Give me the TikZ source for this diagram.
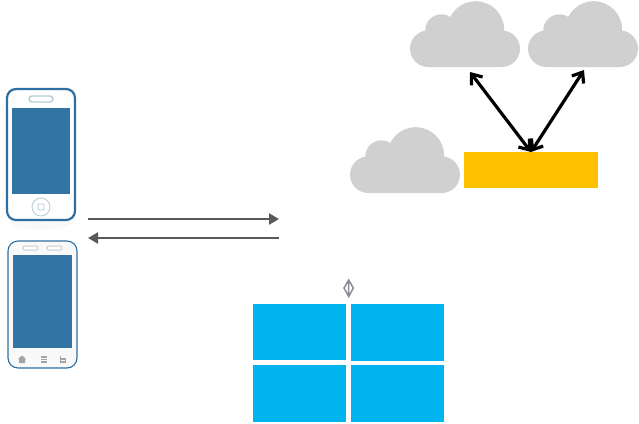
\documentclass[tikz,border=0pt]{standalone}
\usetikzlibrary{arrows.meta}
\definecolor{phoneblue}{HTML}{2E6FA3}
\definecolor{screenblue}{HTML}{3274A3}
\definecolor{cloudgray}{HTML}{D0D0D0}
\definecolor{linkgray}{HTML}{595959}
\definecolor{gateyellow}{HTML}{FFC000}
\definecolor{panecyan}{HTML}{00B4F0}
\definecolor{trimgray}{HTML}{B4CDD2}
\definecolor{icongray}{HTML}{8C8C96}
\tikzset{
    box/.style={inner sep=0pt,outer sep=0pt,anchor=north west,fill=#1},
    cloud/.pic={
        \fill[cloudgray] (18.3,-18.3) circle (18.3) (91.7,-18.3) circle (18.3)
            (31.3,-36.7) circle (16) (65.7,-37.3) circle (28.5)
            (18.3,0) rectangle (91.7,-36.6);
    },
    link/.style={draw=linkgray,line width=2.6pt,-{Triangle[length=10pt,width=11pt]}},
    bounce/.style={draw=black,line width=3.2pt,{Straight Barb[length=9pt,width=14pt]}-{Straight Barb[length=9pt,width=14pt]}},
}
\begin{document}
\begin{tikzpicture}[x=1pt,y=-1pt]
    \useasboundingbox (0,0) rectangle (639,423);
    % first phone
    \fill[gray!5] (41,222) ellipse (30 and 8);
    \node[box=white,draw=phoneblue,line width=2.2pt,rounded corners=9pt,minimum width=68pt,minimum height=131pt] (phoneA) at (7,89) {};
    \node[box=screenblue,minimum width=58pt,minimum height=86pt] (screenA) at (12,108) {};
    \draw[trimgray,line width=1.4pt,rounded corners=3pt] (29,96) rectangle (53,102);
    \draw[trimgray,line width=.8pt] (41,207) circle (9);
    \draw[trimgray,line width=.8pt,rounded corners=1pt] (38,204) rectangle (44,210);
    % second phone
    \node[box=gray!5,draw=phoneblue,line width=1.1pt,rounded corners=10pt,minimum width=69pt,minimum height=127pt] (phoneB) at (8,241) {};
    \node[box=screenblue,minimum width=59pt,minimum height=93pt] (screenB) at (13,255) {};
    \foreach \x in {23,47}
        \draw[gray!40,fill=white,line width=1pt,rounded corners=2pt] (\x,246) rectangle ++(15,4);
    \fill[icongray!80] (22,355.5) -- (26,359) -- (25,359) -- (25,363) -- (19,363) -- (19,359) -- (18,359) -- cycle;
    \foreach \y in {356,358.5,361}
        \fill[icongray!80] (41,\y) rectangle ++(6,1.6);
    \draw[icongray!80,line width=1.2pt] (60.5,356) -- (60.5,362) -- (65.5,362) -- (65.5,359) -- (60.5,359);
    % links between phones and server
    \coordinate (sendA) at (88,219);
    \coordinate (sendB) at (279,219);
    \coordinate (backA) at (279,238);
    \coordinate (backB) at (88,238);
    \draw[link] (sendA) -- (sendB);
    \draw[link] (backA) -- (backB);
    % clouds
    \pic at (410,67) {cloud};
    \pic at (528,67) {cloud};
    \pic at (350,193) {cloud};
    \node[box=gateyellow,minimum width=134pt,minimum height=36pt] (gate) at (464,152) {};
    \coordinate (cloudA) at (470,72);
    \coordinate (cloudB) at (584,70);
    \draw[bounce] (cloudA) -- (gate.north);
    \draw[bounce] (cloudB) -- (gate.north);
    % windows panes
    \node[box=panecyan,minimum width=93pt,minimum height=56pt] (paneA) at (253,304) {};
    \node[box=panecyan,minimum width=93pt,minimum height=57pt] (paneB) at (351,304) {};
    \node[box=panecyan,minimum width=93pt,minimum height=57pt] (paneC) at (253,365) {};
    \node[box=panecyan,minimum width=93pt,minimum height=57pt] (paneD) at (351,365) {};
    \draw[icongray,line width=1.5pt] (348.7,280) -- (353.3,288) -- (348.7,296.5) -- (344,288) -- cycle (348.7,280) -- (348.7,296.5);
\end{tikzpicture}
\end{document}
